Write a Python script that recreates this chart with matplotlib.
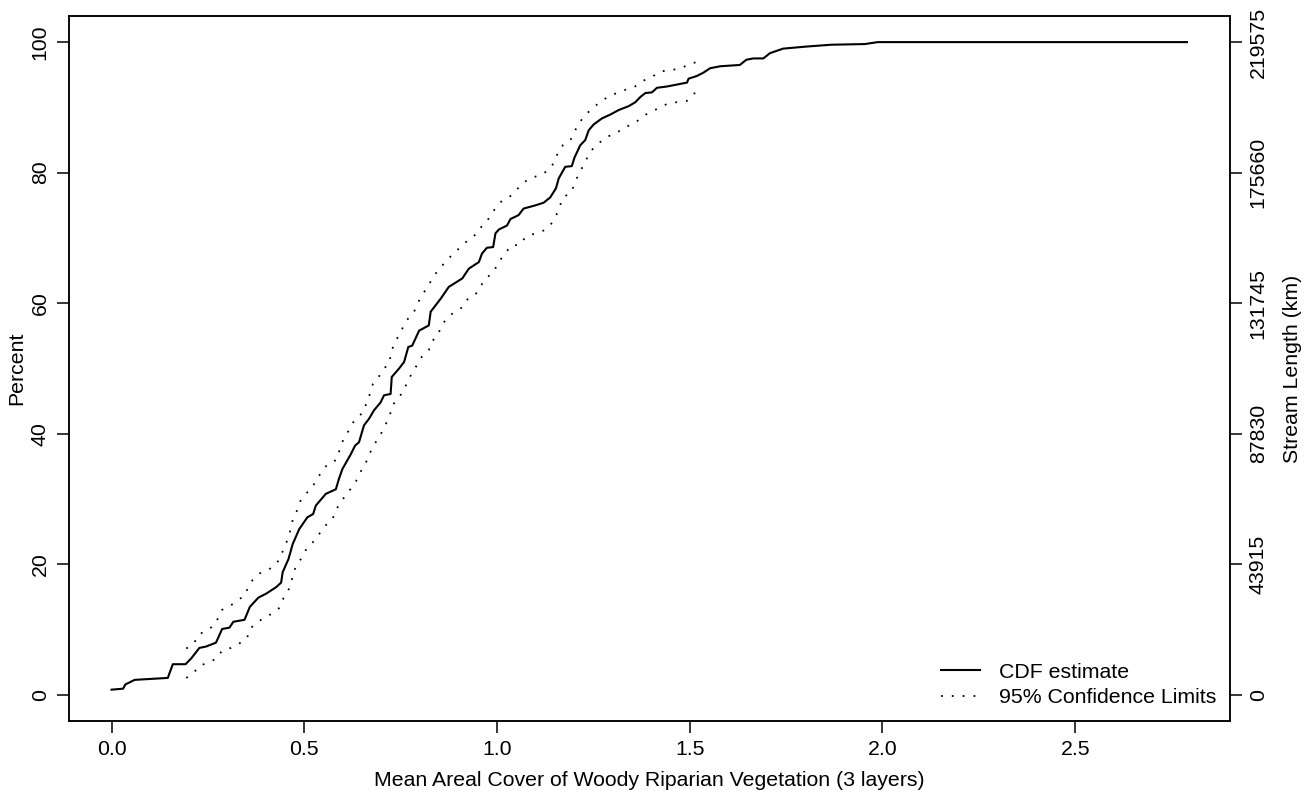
import numpy as np
import matplotlib
matplotlib.use("Agg")
import matplotlib.pyplot as plt
from matplotlib.lines import Line2D

plt.rcParams['font.family'] = ['Liberation Sans', 'DejaVu Sans']

# CDF estimate (x = mean areal cover, y = percent)
cdf_x = [0.000, 0.030, 0.036, 0.060, 0.146, 0.159, 0.192, 0.207, 0.228, 0.245,
         0.271, 0.287, 0.306, 0.316, 0.345, 0.359, 0.381, 0.401, 0.427, 0.440,
         0.444, 0.459, 0.470, 0.487, 0.508, 0.523, 0.530, 0.556, 0.582, 0.590,
         0.599, 0.621, 0.632, 0.642, 0.655, 0.668, 0.681, 0.698, 0.707, 0.724,
         0.727, 0.746, 0.759, 0.770, 0.780, 0.798, 0.823, 0.828, 0.854, 0.875,
         0.910, 0.927, 0.953, 0.961, 0.974, 0.990, 0.996, 1.005, 1.026, 1.035,
         1.056, 1.069, 1.100, 1.121, 1.138, 1.153, 1.160, 1.177, 1.194, 1.201,
         1.216, 1.229, 1.238, 1.251, 1.272, 1.294, 1.316, 1.342, 1.359, 1.372,
         1.385, 1.402, 1.415, 1.441, 1.493, 1.497, 1.518, 1.535, 1.553, 1.579,
         1.630, 1.647, 1.665, 1.691, 1.708, 1.742, 1.799, 1.867, 1.954, 1.988,
         2.126, 2.790]
cdf_y = [0.8, 0.95, 1.6, 2.3, 2.6, 4.7, 4.7, 5.6, 7.2, 7.4,
         8.0, 10.1, 10.3, 11.2, 11.5, 13.5, 14.9, 15.5, 16.5, 17.2,
         18.8, 20.8, 23.1, 25.4, 27.2, 27.7, 29.0, 30.8, 31.5, 33.1,
         34.6, 36.9, 38.2, 38.7, 41.3, 42.3, 43.6, 44.8, 45.9, 46.1,
         48.7, 50.0, 51.0, 53.3, 53.5, 55.8, 56.6, 58.7, 60.7, 62.5,
         63.8, 65.3, 66.3, 67.6, 68.5, 68.6, 70.7, 71.3, 71.9, 72.9,
         73.5, 74.5, 75.0, 75.4, 76.2, 77.6, 79.1, 80.9, 81.0, 82.3,
         84.2, 85.0, 86.5, 87.4, 88.3, 88.9, 89.6, 90.2, 90.8, 91.6,
         92.2, 92.3, 93.0, 93.2, 93.8, 94.4, 94.8, 95.3, 96.0, 96.3,
         96.5, 97.3, 97.5, 97.5, 98.3, 99.0, 99.3, 99.6, 99.7, 100.0,
         100.0, 100.0]

# upper 95% confidence limit
up_x = [0.194, 0.215, 0.224, 0.245, 0.264, 0.275, 0.286, 0.307, 0.325, 0.345,
        0.355, 0.366, 0.384, 0.408, 0.427, 0.440, 0.448, 0.459, 0.470, 0.481,
        0.489, 0.502, 0.520, 0.533, 0.547, 0.561, 0.584, 0.592, 0.600, 0.612,
        0.622, 0.636, 0.653, 0.662, 0.671, 0.678, 0.694, 0.707, 0.722, 0.724,
        0.735, 0.746, 0.757, 0.770, 0.785, 0.795, 0.818, 0.845, 0.875, 0.893,
        0.910, 0.930, 0.951, 0.963, 0.981, 0.994, 1.013, 1.031, 1.048, 1.065,
        1.087, 1.113, 1.134, 1.150, 1.158, 1.171, 1.190, 1.201, 1.214, 1.229,
        1.246, 1.265, 1.287, 1.311, 1.333, 1.358, 1.380, 1.403, 1.423, 1.450,
        1.479, 1.499, 1.525]
up_y = [7.1, 8.0, 9.1, 9.9, 10.5, 11.6, 13.0, 13.6, 14.4, 15.2,
        16.5, 17.6, 18.6, 19.2, 20.0, 21.3, 22.7, 24.0, 26.8, 28.2,
        29.6, 30.7, 31.7, 33.1, 34.3, 35.4, 36.0, 37.6, 38.9, 40.1,
        41.4, 42.4, 43.3, 44.8, 46.2, 47.6, 48.8, 50.0, 50.9, 52.4,
        53.9, 55.2, 56.4, 57.7, 58.7, 60.1, 62.4, 64.9, 66.9, 67.9,
        68.9, 69.9, 70.8, 72.1, 73.1, 74.4, 75.7, 76.2, 77.2, 78.3,
        79.2, 79.6, 80.4, 81.7, 83.1, 84.2, 84.9, 86.3, 87.7, 88.8,
        89.8, 90.7, 91.6, 92.2, 92.7, 93.2, 94.1, 94.7, 95.5, 95.7,
        96.0, 96.7, 97.0]

# lower 95% confidence limit
lo_x = [0.194, 0.215, 0.228, 0.251, 0.273, 0.287, 0.310, 0.332, 0.351, 0.359,
        0.375, 0.396, 0.418, 0.437, 0.446, 0.458, 0.467, 0.471, 0.483, 0.495,
        0.508, 0.526, 0.554, 0.572, 0.590, 0.608, 0.621, 0.634, 0.645, 0.658,
        0.666, 0.678, 0.690, 0.703, 0.722, 0.728, 0.744, 0.759, 0.767, 0.780,
        0.792, 0.805, 0.823, 0.830, 0.847, 0.855, 0.869, 0.886, 0.908, 0.921,
        0.944, 0.957, 0.973, 0.992, 1.002, 1.018, 1.037, 1.058, 1.075, 1.100,
        1.124, 1.141, 1.154, 1.163, 1.173, 1.192, 1.201, 1.212, 1.225, 1.235,
        1.248, 1.266, 1.285, 1.309, 1.328, 1.352, 1.373, 1.393, 1.417, 1.440,
        1.466, 1.493, 1.509, 1.533]
lo_y = [2.6, 3.5, 4.5, 4.9, 5.6, 6.8, 7.2, 7.9, 8.6, 10.1,
        11.0, 11.8, 12.5, 13.4, 14.8, 15.9, 17.3, 18.8, 20.0, 21.2,
        22.6, 23.6, 25.9, 26.8, 29.2, 30.6, 31.6, 32.7, 34.1, 35.2,
        36.6, 37.9, 39.2, 40.4, 42.8, 44.3, 45.5, 46.6, 48.0, 49.3,
        50.5, 51.8, 52.8, 54.1, 55.1, 56.5, 57.6, 58.5, 59.3, 60.5,
        61.3, 62.6, 63.9, 64.8, 66.2, 67.3, 68.9, 68.9, 70.2, 70.7,
        71.2, 72.2, 73.5, 74.9, 76.3, 76.9, 78.3, 79.8, 81.2, 82.4,
        83.6, 84.6, 85.5, 86.0, 86.9, 87.4, 88.3, 89.2, 89.8, 90.5,
        90.8, 91.0, 92.1, 92.4]

xticks = [0.0, 0.5, 1.0, 1.5, 2.0, 2.5]
yticks = [0, 20, 40, 60, 80, 100]
right_labels = ["0", "43915", "87830", "131745", "175660", "219575"]

fs = 15.3
dots = (0, (1, 5))

fig = plt.figure(figsize=(13.16, 7.93), dpi=100)
ax = fig.add_axes([68.5/1316, 1-721/793, (1230-68.5)/1316, (721-16)/793])

ax.plot(cdf_x, cdf_y, color='black', lw=1.5)
ax.plot(up_x, up_y, color='black', lw=1.3, linestyle=dots)
ax.plot(lo_x, lo_y, color='black', lw=1.3, linestyle=dots)

# R style 4% padding
xr = max(cdf_x) - min(cdf_x)
ax.set_xlim(min(cdf_x) - 0.04*xr, max(cdf_x) + 0.04*xr)
ax.set_ylim(-4, 104)
ax.set_xticks(xticks)
ax.set_xticklabels(["%.1f" % v for v in xticks])
ax.set_yticks(yticks)
ax.set_yticklabels([str(v) for v in yticks], rotation=90, va='center')
ax.tick_params(direction='out', length=8.5, width=1.1, labelsize=fs, pad=5)
for s in ax.spines.values():
    s.set_linewidth(1.1)

ax.set_xlabel("Mean Areal Cover of Woody Riparian Vegetation (3 layers)", fontsize=fs, labelpad=9)
ax.set_ylabel("Percent", fontsize=fs, labelpad=3)

# right axis in stream length
ax2 = ax.twinx()
ax2.set_ylim(ax.get_ylim())
ax2.set_yticks(yticks)
ax2.set_yticklabels(right_labels, rotation=90, va='center')
ax2.tick_params(direction='out', length=8.5, width=1.1, labelsize=fs, pad=5)
ax2.set_ylabel("Stream Length (km)", fontsize=fs, labelpad=11)
for s in ax2.spines.values():
    s.set_linewidth(1.1)

handles = [Line2D([], [], color='black', lw=1.5),
           Line2D([], [], color='black', lw=1.3, linestyle=dots)]
ax.legend(handles, ["CDF estimate", "95% Confidence Limits"], loc='lower right',
          frameon=False, fontsize=fs, handlelength=1.8, handletextpad=0.9,
          labelspacing=0.3, borderaxespad=0.3, borderpad=0.35)

fig.savefig("out.png", dpi=100)
